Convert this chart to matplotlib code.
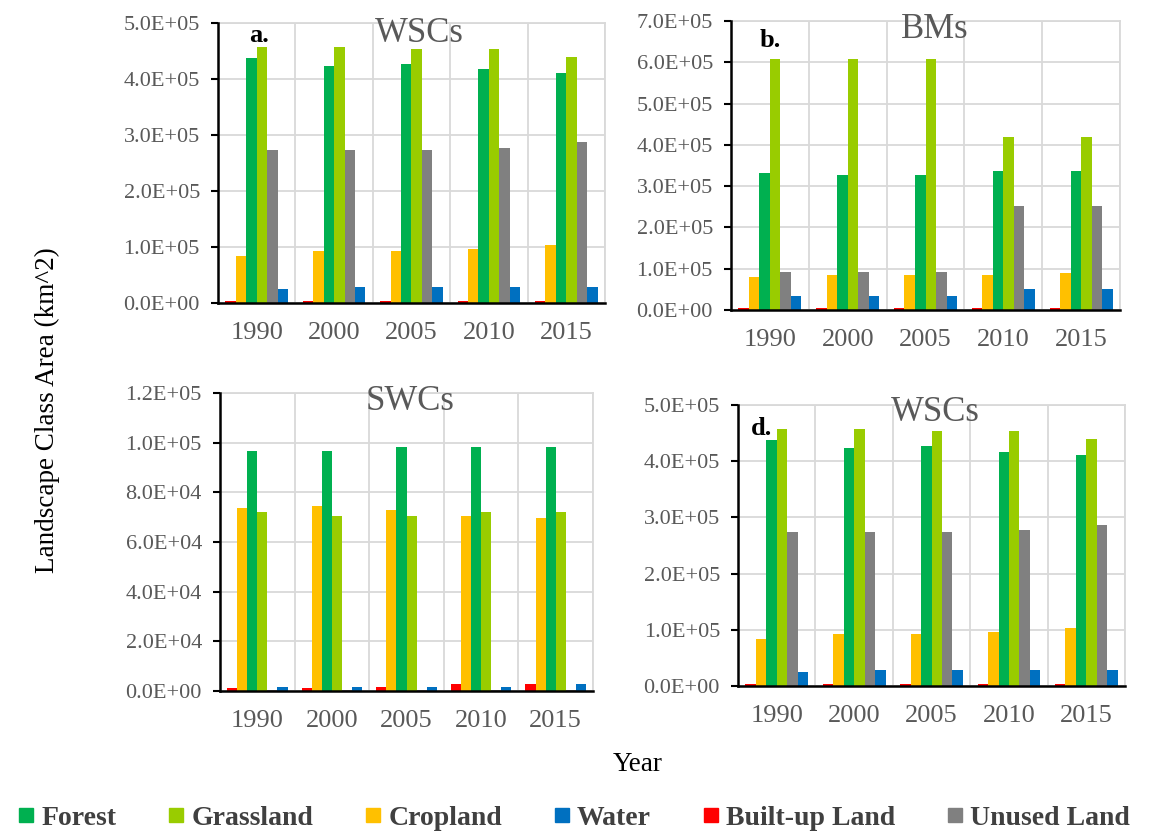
import numpy as np
import matplotlib
matplotlib.use('Agg')
import matplotlib.pyplot as plt
from matplotlib.lines import Line2D
from matplotlib.ticker import FuncFormatter, MultipleLocator

plt.rcParams['font.family'] = ['Liberation Serif', 'DejaVu Serif']

years = ['1990', '2000', '2005', '2010', '2015']
classes = ['Built-up Land', 'Cropland', 'Forest', 'Grassland', 'Unused Land', 'Water']
colors = {'Forest': '#00B050', 'Grassland': '#99CC00', 'Cropland': '#FFC000',
          'Water': '#0070C0', 'Built-up Land': '#FF0000', 'Unused Land': '#808080'}

# area per class (km^2), one value per year
wsc_built = [4000, 4000, 4000, 4000, 4000]
wsc_crop = [83000, 93000, 93000, 97000, 103000]
wsc_forest = [437000, 424000, 427000, 417000, 411000]
wsc_grass = [457000, 457000, 454000, 454000, 440000]
wsc_unused = [274000, 274000, 274000, 277000, 287000]
wsc_water = [25000, 28500, 28500, 28500, 28500]

bm_built = [6000, 6000, 6000, 6000, 6000]
bm_crop = [79000, 84000, 84000, 84000, 89000]
bm_forest = [332000, 328000, 328000, 337000, 337000]
bm_grass = [609000, 609000, 609000, 420000, 420000]
bm_unused = [93000, 93000, 93000, 253000, 253000]
bm_water = [34000, 34000, 34000, 52000, 52000]

swc_built = [1100, 1100, 1700, 2700, 2700]
swc_crop = [73500, 74400, 72700, 70400, 69700]
swc_forest = [96500, 96500, 98100, 98100, 98100]
swc_grass = [72000, 70400, 70400, 72000, 72000]
swc_unused = [500, 500, 500, 500, 500]
swc_water = [1600, 1600, 1600, 1600, 2700]

wsc = [wsc_built, wsc_crop, wsc_forest, wsc_grass, wsc_unused, wsc_water]
bm = [bm_built, bm_crop, bm_forest, bm_grass, bm_unused, bm_water]
swc = [swc_built, swc_crop, swc_forest, swc_grass, swc_unused, swc_water]

fig = plt.figure(figsize=(11.55, 8.36), dpi=100)

panels = [
    # data, title, letter, ymax, ystep, rect, title pos, letter pos
    (wsc, 'WSCs', 'a.', 5e5, 1e5, [0.1887, 0.6376, 0.3351, 0.3349], (0.52, 0.964), (0.105, 0.955)),
    (bm, 'BMs', 'b.', 7e5, 1e5, [0.6329, 0.6292, 0.3368, 0.3457], (0.525, 0.97), (0.10, 0.932)),
    (swc, 'SWCs', '', 1.2e5, 2e4, [0.1905, 0.1734, 0.3229, 0.3565], (0.51, 0.97), None),
    (wsc, 'WSCs', 'd.', 5e5, 1e5, [0.6390, 0.1794, 0.3351, 0.3361], (0.51, 0.975), (0.06, 0.918)),
]

x = np.arange(len(years))
width = 0.135
tick_color = '#595959'

for data, title, letter, ymax, ystep, rect, tpos, lpos in panels:
    ax = fig.add_axes(rect)
    for i, (name, vals) in enumerate(zip(classes, data)):
        ax.bar(x + (i - 2.5) * width, vals, width, color=colors[name], zorder=3)
    ax.set_xlim(-0.5, len(years) - 0.5)
    ax.set_ylim(0, ymax)
    ax.yaxis.set_major_locator(MultipleLocator(ystep))
    ax.yaxis.set_major_formatter(FuncFormatter(lambda v, p: f'{v:.1E}'))
    ax.set_xticks(x)
    ax.set_xticklabels(years)
    ax.set_xticks(np.arange(0.5, len(years)), minor=True)
    ax.grid(axis='y', which='major', color='#d9d9d9', lw=1.3, zorder=0)
    ax.grid(axis='x', which='minor', color='#d9d9d9', lw=1.3, zorder=0)
    ax.axvline(len(years) - 0.5, color='#d9d9d9', lw=1.3, zorder=0, clip_on=False)
    ax.axhline(ymax, color='#d9d9d9', lw=1.3, zorder=0, clip_on=False)
    for side in ['top', 'right']:
        ax.spines[side].set_visible(False)
    for side in ['left', 'bottom']:
        ax.spines[side].set_linewidth(1.8)
        ax.spines[side].set_zorder(4)
    ax.tick_params(axis='y', direction='out', length=5, width=1.5, pad=8,
                   labelsize=16, labelcolor=tick_color)
    ax.tick_params(axis='x', which='both', length=0, pad=14,
                   labelsize=19, labelcolor=tick_color)
    ax.text(tpos[0], tpos[1], title, transform=ax.transAxes, ha='center', va='center',
            fontsize=25, color=tick_color, zorder=5)
    if lpos:
        ax.text(lpos[0], lpos[1], letter, transform=ax.transAxes, ha='center', va='center',
                fontsize=19, fontweight='bold', color='black', zorder=5)

fig.text(0.041, 0.51, 'Landscape Class Area (km^2)', rotation=90, ha='center', va='center',
         fontsize=19.5)
fig.text(0.552, 0.086, 'Year', ha='center', va='center', fontsize=19.5)

legend_order = ['Forest', 'Grassland', 'Cropland', 'Water', 'Built-up Land', 'Unused Land']
handles = [Line2D([], [], ls='none', marker='s', markersize=10, color=colors[n]) for n in legend_order]
leg = fig.legend(handles, legend_order, loc='center', bbox_to_anchor=(0.497, 0.021), ncol=6,
                 frameon=False, handlelength=0.6, handletextpad=0.25, columnspacing=1.85,
                 borderpad=0, prop={'size': 20, 'weight': 'bold'})
for t in leg.get_texts():
    t.set_color('#404040')

fig.savefig('out.png', dpi=100)
